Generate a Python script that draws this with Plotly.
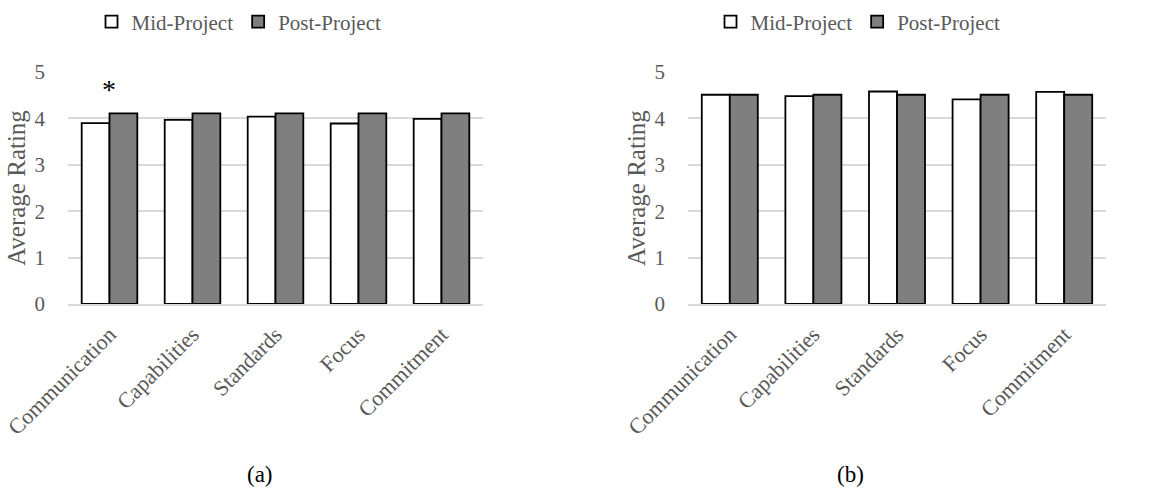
import plotly.graph_objects as go

categories = ["Communication", "Capabilities", "Standards", "Focus", "Commitment"]
mid_a = [3.90, 3.97, 4.04, 3.89, 3.99]
post_a = [4.11, 4.11, 4.11, 4.11, 4.11]
mid_b = [4.51, 4.48, 4.58, 4.41, 4.57]
post_b = [4.51, 4.51, 4.51, 4.51, 4.51]
series_names = ["Mid-Project", "Post-Project"]
y_ticks = [0, 1, 2, 3, 4, 5]

FONT = "Liberation Serif"
GREY = "#595959"
W, H = 1156, 502

def px(x):
    return x / W

def py(y):
    return 1 - y / H

fig = go.Figure()

for (mid, post, xa, ya, lg) in [(mid_a, post_a, "x", "y", "legend"), (mid_b, post_b, "x2", "y2", "legend2")]:
    fig.add_trace(go.Bar(x=categories, y=mid, name=series_names[0], xaxis=xa, yaxis=ya,
                         marker=dict(color="white", line=dict(color="black", width=1.8)), legend=lg))
    fig.add_trace(go.Bar(x=categories, y=post, name=series_names[1], xaxis=xa, yaxis=ya,
                         marker=dict(color="#7f7f7f", line=dict(color="black", width=1.8)), legend=lg))

yaxis_common = dict(range=[0, 5], tickvals=y_ticks, showgrid=True, gridcolor="#d9d9d9", gridwidth=1.8,
                    zeroline=False, showline=False, automargin=False,
                    tickfont=dict(family=FONT, size=21, color=GREY), ticklabelstandoff=22,
                    title=dict(text="Average Rating", font=dict(family=FONT, size=25, color=GREY), standoff=1))
xaxis_common = dict(tickangle=-45, tickfont=dict(family=FONT, size=22, color=GREY), showline=True,
                    linecolor="#d9d9d9", linewidth=1.8, showgrid=False, ticks="", automargin=False,
                    ticklabelstandoff=7)

fig.update_layout(
    width=W, height=H, margin=dict(l=0, r=0, t=0, b=0, autoexpand=False),
    plot_bgcolor="white", paper_bgcolor="white",
    barmode="group", bargap=0.33, bargroupgap=0,
    xaxis=dict(domain=[px(68), px(483)], anchor="y", **xaxis_common),
    yaxis=dict(domain=[py(304), py(72)], anchor="x", **yaxis_common),
    xaxis2=dict(domain=[px(688), px(1106)], anchor="y2", **xaxis_common),
    yaxis2=dict(domain=[py(304), py(72)], anchor="x2", **yaxis_common),
    legend=dict(orientation="h", x=px(239), xanchor="center", y=py(22), yanchor="middle",
                font=dict(family=FONT, size=21, color=GREY), itemwidth=30, traceorder="normal"),
    legend2=dict(orientation="h", x=px(858), xanchor="center", y=py(22), yanchor="middle",
                 font=dict(family=FONT, size=21, color=GREY), itemwidth=30, traceorder="normal"),
    showlegend=True,
)

fig.add_annotation(x="Communication", y=4.70, xref="x", yref="y", text="*", showarrow=False,
                   xshift=-1, yshift=-4, font=dict(family=FONT, size=28, color="black"), yanchor="middle")
fig.add_annotation(x=px(245), y=py(489), xref="paper", yref="paper", text="(a)", showarrow=False,
                   font=dict(family=FONT, size=23, color="black"))
fig.add_annotation(x=px(866), y=py(489), xref="paper", yref="paper", text="(b)", showarrow=False,
                   font=dict(family=FONT, size=23, color="black"))

fig.write_html("out.html", config={"displayModeBar": False},
               post_script="document.body.style.margin='0px';")
